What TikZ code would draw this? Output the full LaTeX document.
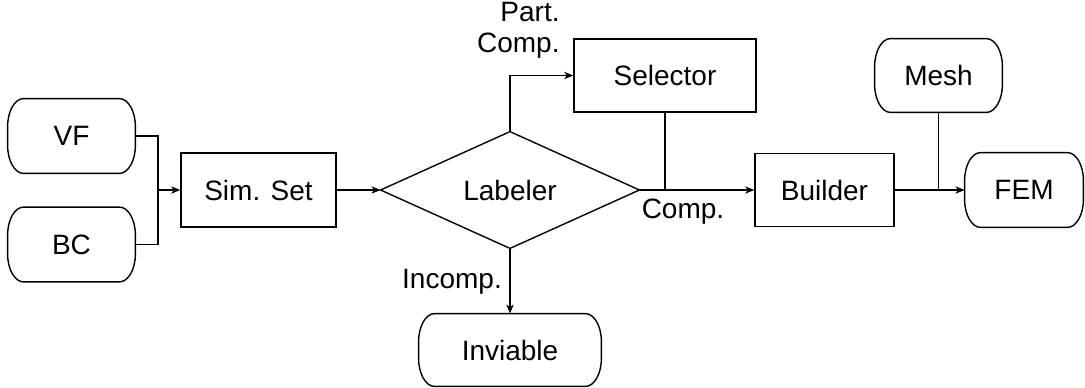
\documentclass[tikz,border=0pt]{standalone}
\usepackage{fontspec}
\setmainfont{Liberation Sans}
\usetikzlibrary{arrows.meta,calc}
\newcommand{\terminal}[1]{%
  \draw[shapeline] ([xshift=8pt]#1.north west) -- ([xshift=-8pt]#1.north east)
    arc[start angle=90,end angle=0,x radius=8pt,y radius=14pt]
    -- ([yshift=14pt]#1.south east)
    arc[start angle=0,end angle=-90,x radius=8pt,y radius=14pt]
    -- ([xshift=8pt]#1.south west)
    arc[start angle=270,end angle=180,x radius=8pt,y radius=14pt]
    -- ([yshift=-14pt]#1.north west)
    arc[start angle=180,end angle=90,x radius=8pt,y radius=14pt] -- cycle;}
\begin{document}
\begin{tikzpicture}[x=0.5pt,y=-0.5pt,
  font=\fontsize{14}{15.5}\selectfont,
  shapeline/.style={line width=0.7pt,black},
  box/.style={draw,line width=0.7pt,minimum height=37pt,inner sep=0pt},
  termbox/.style={minimum height=37pt,inner sep=0pt},
  conn/.style={line width=0.7pt},
  arr/.style={conn,-{Stealth[length=4.5pt,width=3.6pt,inset=1.2pt]}},
  lbl/.style={inner sep=0pt,align=center}]
\useasboundingbox (0,0) rectangle (1085,387);
% terminals
\node[termbox,minimum width=63.5pt] (vf) at (71.5,136) {VF};
\node[termbox,minimum width=63.5pt] (bc) at (71.5,244.5) {BC};
\node[termbox,minimum width=63.5pt,minimum height=36.5pt] (mesh) at (938.5,75.5) {Mesh};
\node[termbox,minimum width=59pt] (fem) at (1024,190) {FEM};
\node[termbox,minimum width=91pt,minimum height=36pt] (inv) at (510,350) {Inviable};
\terminal{vf}\terminal{bc}\terminal{mesh}\terminal{fem}\terminal{inv}
% boxes
\node[box,minimum width=77.5pt] (sim) at (258.5,190) {Sim. Set};
\node[box,minimum width=91pt,minimum height=36.5pt] (sel) at (665,75.5) {Selector};
\node[box,minimum width=69.5pt,minimum height=36.5pt] (bld) at (824.5,190) {Builder};
% decision
\node[minimum width=129pt,minimum height=58pt,inner sep=0pt] (lab) at (510,190) {Labeler};
\draw[shapeline] (lab.west) -- (lab.north) -- (lab.east) -- (lab.south) -- cycle;
% connectors
\coordinate (j1) at (158,190);
\draw[conn] (vf.east) -| (j1);
\draw[conn] (bc.east) -| (j1);
\draw[arr] (j1) -- (sim.west);
\draw[arr] (sim.east) -- (lab.west);
\draw[arr] (lab.north) |- (sel.west);
\draw[arr] (lab.east) -- (bld.west);
\draw[conn] (sel.south) -- (sel.south |- lab.east);
\draw[arr] (bld.east) -- (fem.west);
\draw[conn] (mesh.south) -- (mesh.south |- fem.west);
\draw[arr] (lab.south) -- (inv.north);
% labels
\node[lbl,align=right,anchor=east] (lpc) at (560,30) {Part.\\Comp.};
\node[lbl] (lc) at (683,212) {Comp.};
\node[lbl] (li) at (452,282) {Incomp.};
\end{tikzpicture}
\end{document}
